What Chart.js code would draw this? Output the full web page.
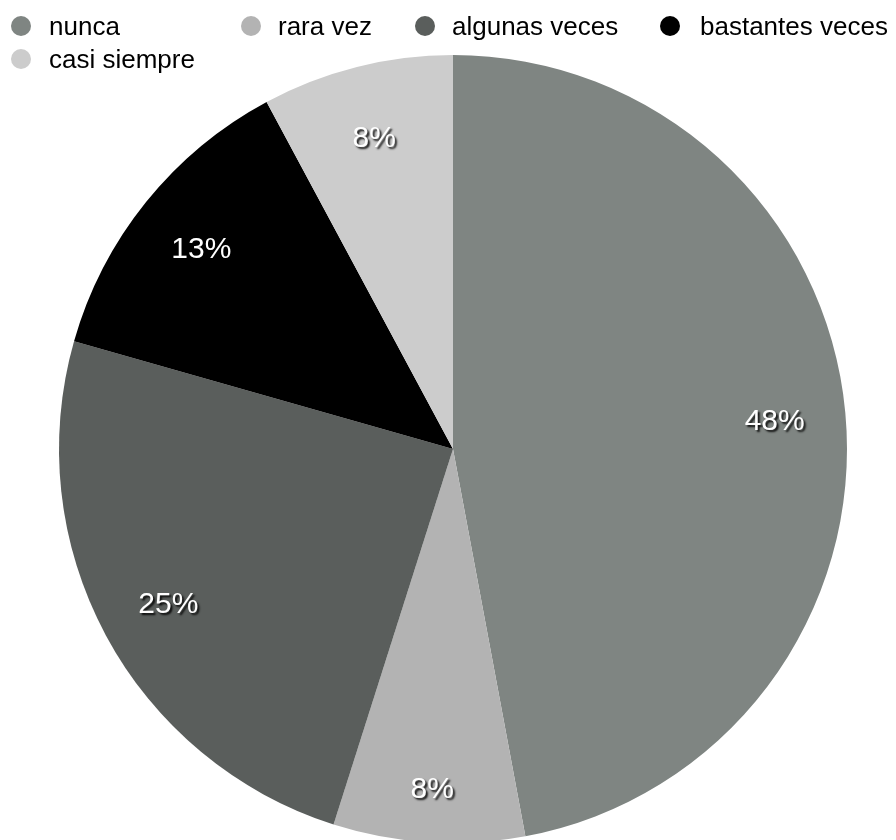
<!DOCTYPE html>
<html>
<head>
<meta charset="utf-8">
<script src="https://cdn.jsdelivr.net/npm/chart.js@4/dist/chart.umd.min.js"></script>
<style>
  html, body { margin: 0; padding: 0; background: #fff; overflow: hidden; }
  #wrap { width: 896px; height: 846px; }
</style>
</head>
<body>
<div id="wrap"><canvas id="pieChart"></canvas></div>
<script>
// Respuestas y porcentajes
const categorias = ['nunca', 'rara vez', 'algunas veces', 'bastantes veces', 'casi siempre'];
const porcentajes = [48, 8, 25, 13, 8];
const colores = ['#7f8582', '#b3b3b3', '#5a5e5c', '#000000', '#cccccc'];

const FUENTE = '"Liberation Sans", Helvetica, Arial, sans-serif';

// Leyenda dibujada a mano (dos filas, columnas fijas)
const leyendaPlugin = {
    id: 'leyendaManual',
    afterDraw(chart) {
        const ctx = chart.ctx;
        const columnas = [
            { cx: 21, tx: 49, y: 26 },
            { cx: 251, tx: 278, y: 26 },
            { cx: 425, tx: 452, y: 26 },
            { cx: 670, tx: 700, y: 26 },
            { cx: 21, tx: 49, y: 59 }
        ];
        ctx.save();
        ctx.font = '26px ' + FUENTE;
        ctx.textBaseline = 'alphabetic';
        chart.data.labels.forEach((texto, i) => {
            const c = columnas[i];
            ctx.fillStyle = chart.data.datasets[0].backgroundColor[i];
            ctx.beginPath();
            ctx.arc(c.cx, c.y, 10, 0, Math.PI * 2);
            ctx.fill();
            ctx.fillStyle = '#000';
            ctx.fillText(texto, c.tx, c.y + 9);
        });
        ctx.restore();
    }
};

// Porcentaje dentro de cada sector, con sombra
const etiquetasPlugin = {
    id: 'etiquetas',
    afterDatasetsDraw(chart) {
        const ctx = chart.ctx;
        const meta = chart.getDatasetMeta(0);
        ctx.save();
        ctx.font = '30px ' + FUENTE;
        ctx.textAlign = 'center';
        ctx.textBaseline = 'middle';
        ctx.fillStyle = '#fff';
        ctx.shadowColor = 'rgba(0,0,0,0.9)';
        ctx.shadowOffsetX = 2;
        ctx.shadowOffsetY = 2;
        ctx.shadowBlur = 2;
        meta.data.forEach((arc, i) => {
            const p = arc.getProps(['x', 'y', 'startAngle', 'endAngle', 'outerRadius'], true);
            const medio = (p.startAngle + p.endAngle) / 2;
            // el sector pequeño de abajo lleva la etiqueta algo más afuera
            const r = p.outerRadius * (i === 1 ? 0.86 : 0.82);
            ctx.fillText(chart.data.datasets[0].data[i] + '%', p.x + Math.cos(medio) * r, p.y + Math.sin(medio) * r + 3);
        });
        ctx.restore();
    }
};

const ctx = document.getElementById('pieChart').getContext('2d');
const pieChart = new Chart(ctx, {
    type: 'pie',
    data: {
        labels: categorias,
        datasets: [{
            data: porcentajes,
            backgroundColor: colores,
            borderWidth: 0
        }]
    },
    options: {
        responsive: true,
        maintainAspectRatio: false,
        animation: false,
        layout: {
            padding: { top: 55, bottom: 3, left: 10, right: 0 }
        },
        plugins: {
            legend: { display: false },
            tooltip: { enabled: false }
        }
    },
    plugins: [etiquetasPlugin, leyendaPlugin]
});
</script>
</body>
</html>
